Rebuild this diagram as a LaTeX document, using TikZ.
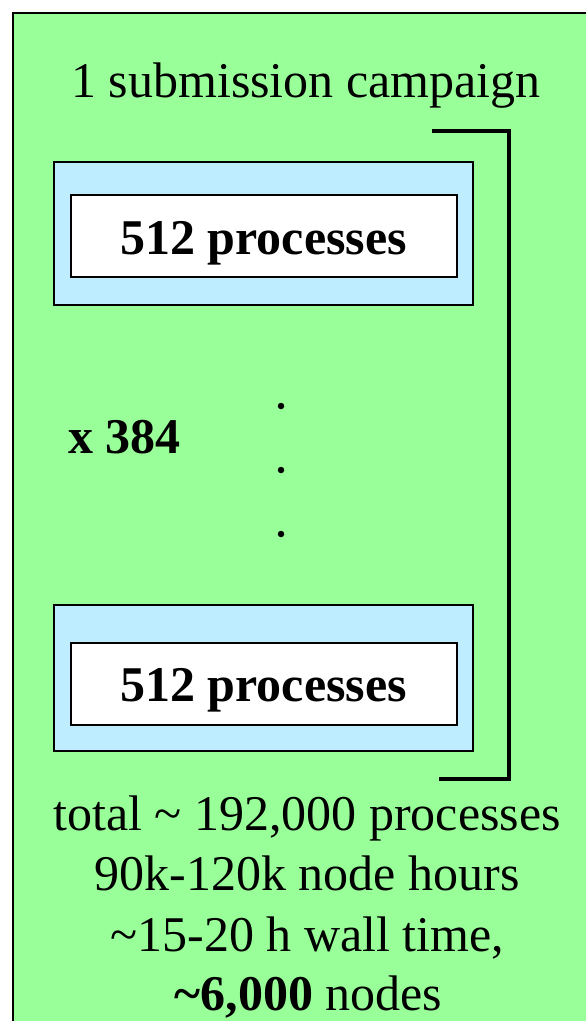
\documentclass[tikz,border=0pt]{standalone}
\usepackage{fontspec}
\setmainfont{Liberation Serif}
\usetikzlibrary{positioning}
\definecolor{campgreen}{RGB}{153,255,153}
\definecolor{jobblue}{RGB}{190,237,255}
\tikzset{x=1pt, y=-1pt,
every node/.style={
inner sep=0pt,
font=\fontsize{50}{60}\selectfont},
jobbox/.style={
draw,
line width=2pt,
fill=jobblue,
minimum width=419pt},
procbox/.style={
draw,
line width=2pt,
fill=white,
minimum width=386pt,
minimum height=82pt,
text height=40pt,
text depth=4pt,
font=\fontsize{50}{60}\selectfont\bfseries},
dotmark/.style={
circle,
fill,
minimum size=6.5pt},
bracket/.style={
line width=4pt}}

\begin{document}
\begin{tikzpicture}
\useasboundingbox (0,0) rectangle (586,1021);
\draw[line width=2pt, fill=campgreen] (13,13) rectangle (640,1060);
\node[anchor=base] (title) at (306,97) {1 submission campaign};
\node[jobbox, minimum height=143pt] (campA) at (263.7,233) {};
\node[procbox] (procA) at (263.5,236) {512 processes};
\node[anchor=base west, font=\fontsize{50}{60}\selectfont\bfseries] (count) at (68,453) {x 384};
\node[dotmark] (dotA) at (281,406) {};
\node[dotmark] (dotB) at (281,470) {};
\node[dotmark] (dotC) at (281,534) {};
\node[jobbox, minimum height=146pt] (campB) at (263.7,678) {};
\node[procbox] (procB) at (263.5,683.5) {512 processes};
\coordinate (brtop) at (432,131);
\coordinate (brbot) at (439,779);
\draw[bracket] (brtop) -| (509,779) -- (brbot);
\node[anchor=base] (total) at (307,830) {total \textasciitilde{} 192,000 processes};
\node[anchor=base] (hours) at (307,890) {90k-120k node hours};
\node[anchor=base] (walltime) at (307.5,951) {\textasciitilde15-20 h wall time,};
\node[anchor=base] (nodecount) at (308.5,1010) {\textbf{\textasciitilde6,000} nodes};
\end{tikzpicture}
\end{document}
